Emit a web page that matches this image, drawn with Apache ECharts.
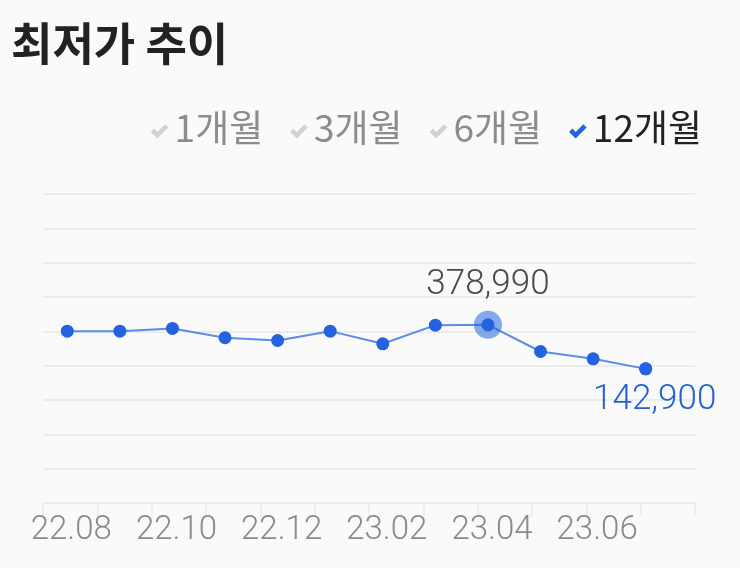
<!DOCTYPE html>
<html>
<head>
<meta charset="utf-8">
<script src="https://cdn.jsdelivr.net/npm/echarts@6/dist/echarts.min.js"></script>
<style>
  html, body { margin: 0; padding: 0; background: #fafafa; }
  #chart { width: 740px; height: 568px; }
</style>
</head>
<body>
<div id="chart"></div>
<script>
// months shown on the x axis
var months = ['22.08', '22.09', '22.10', '22.11', '22.12', '23.01',
              '23.02', '23.03', '23.04', '23.05', '23.06', '23.07'];
// lowest price per month
var lowestPrice = [345000, 345000, 359600, 309600, 295000, 345000,
                   277300, 377000, 378990, 236000, 196700, 142900];
var periods = ['1개월', '3개월', '6개월', '12개월'];
var activePeriod = '12개월';

var BLUE = '#2562e0';
// check mark; the empty first sub-path pushes the tick down a little
var checkIcon = 'path://M0,-6 L0.01,-6 Z M0,8 L3,5 L6,8 L13,1 L16,4 L6,14 Z';

function comma(v) {
  return String(v).replace(/\B(?=(\d{3})+(?!\d))/g, ',');
}

var chart = echarts.init(document.getElementById('chart'));

var series = periods.map(function (p) {
  if (p !== activePeriod) {
    return { name: p, type: 'line', data: [], color: '#d2d2d2', xAxisIndex: 1, yAxisIndex: 1 };
  }
  return {
    name: p,
    type: 'line',
    xAxisIndex: 1,
    yAxisIndex: 1,
    data: lowestPrice,
    color: BLUE,
    symbol: 'circle',
    symbolSize: 13,
    lineStyle: { color: '#5a8ce8', width: 2 },
    itemStyle: { color: BLUE },
    z: 3,
    markPoint: {
      animation: false,
      data: [
        {
          type: 'max',
          symbol: 'circle',
          symbolSize: 28,
          itemStyle: { color: 'rgba(37,98,224,0.55)' },
          label: {
            show: true,
            position: 'top',
            distance: 8,
            formatter: function (p) { return comma(p.value); },
            color: '#4a4a4a',
            fontSize: 35,
            fontFamily: 'Roboto',
            fontWeight: 300
          }
        },
        {
          type: 'min',
          symbol: 'circle',
          symbolSize: 13,
          itemStyle: { color: BLUE },
          label: {
            show: true,
            position: 'bottom',
            distance: 7,
            offset: [9, 0],
            formatter: function (p) { return comma(p.value); },
            color: '#2360d8',
            fontSize: 35,
            fontFamily: 'Roboto',
            fontWeight: 300
          }
        }
      ]
    }
  };
});

var option = {
  animation: false,
  backgroundColor: '#fafafa',
  title: {
    text: '최저가 추이',
    left: 6,
    top: 16,
    textStyle: {
      fontSize: 45,
      fontWeight: 'bold',
      color: '#222',
      fontFamily: 'Noto Sans CJK KR'
    }
  },
  legend: {
    right: 33,
    top: 104,
    icon: checkIcon,
    itemWidth: 18,
    itemHeight: 22,
    itemGap: 27,
    textStyle: { fontSize: 37, fontFamily: 'Noto Sans CJK KR', padding: [0, 0, 0, 1] },
    data: periods.map(function (p) {
      return { name: p, textStyle: { color: p === activePeriod ? '#222' : '#8c8c8c' } };
    })
  },
  grid: [
    { left: 43, right: 45, top: 194, bottom: 65 },
    { left: 41, right: 68, top: 194, bottom: 65 }
  ],
  xAxis: [
    {
      gridIndex: 0,
      type: 'category',
      data: months,
      boundaryGap: true,
      axisLine: { lineStyle: { color: '#ececec', width: 2 } },
      axisTick: { show: true, interval: 0, length: 14, lineStyle: { color: '#efefef', width: 2 } },
      axisLabel: { show: false }
    },
    {
      gridIndex: 1,
      type: 'category',
      data: months,
      boundaryGap: true,
      axisLine: { show: false },
      axisTick: { show: false },
      axisLabel: {
        interval: 1,
        margin: 11,
        padding: [0, 0, 0, 8],
        color: '#8a8a8a',
        fontSize: 33,
        fontFamily: 'Roboto',
        fontWeight: 300
      }
    }
  ],
  yAxis: [
    {
      gridIndex: 0,
      type: 'value',
      min: 0,
      max: 9,
      interval: 1,
      axisLine: { show: false },
      axisTick: { show: false },
      axisLabel: { show: false },
      splitLine: { lineStyle: { color: '#ececec', width: 2 } }
    },
    {
      gridIndex: 1,
      type: 'value',
      min: -576000,
      max: 1080000,
      axisLine: { show: false },
      axisTick: { show: false },
      axisLabel: { show: false },
      splitLine: { show: false }
    }
  ],
  series: series
};

chart.setOption(option);
</script>
</body>
</html>
